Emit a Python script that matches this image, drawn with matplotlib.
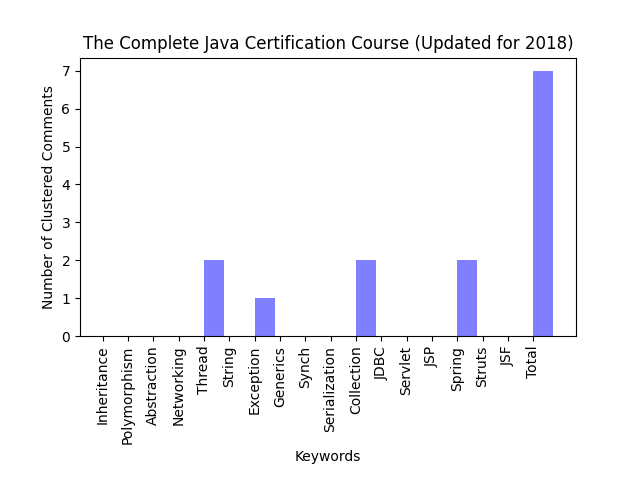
import matplotlib
matplotlib.use("Agg")
import matplotlib.pyplot as plt
import numpy as np

keywords = ["Inheritance", "Polymorphism", "Abstraction", "Networking", "Thread",
            "String", "Exception", "Generics", "Synch", "Serialization",
            "Collection", "JDBC", "Servlet", "JSP", "Spring", "Struts", "JSF", "Total"]
counts = [0, 0, 0, 0, 2, 0, 1, 0, 0, 0, 2, 0, 0, 0, 2, 0, 0, 7]

y_pos = np.arange(len(keywords))

plt.figure(figsize=(6.4, 4.8), dpi=100)
plt.bar(y_pos, counts, align='edge', width=0.8, alpha=0.5, color='b')
plt.xticks(y_pos, keywords, rotation=90)
plt.ylabel('Number of Clustered Comments')
plt.xlabel('Keywords')
plt.title('The Complete Java Certification Course (Updated for 2018)')
plt.subplots_adjust(bottom=0.3)
plt.savefig('out.png')
